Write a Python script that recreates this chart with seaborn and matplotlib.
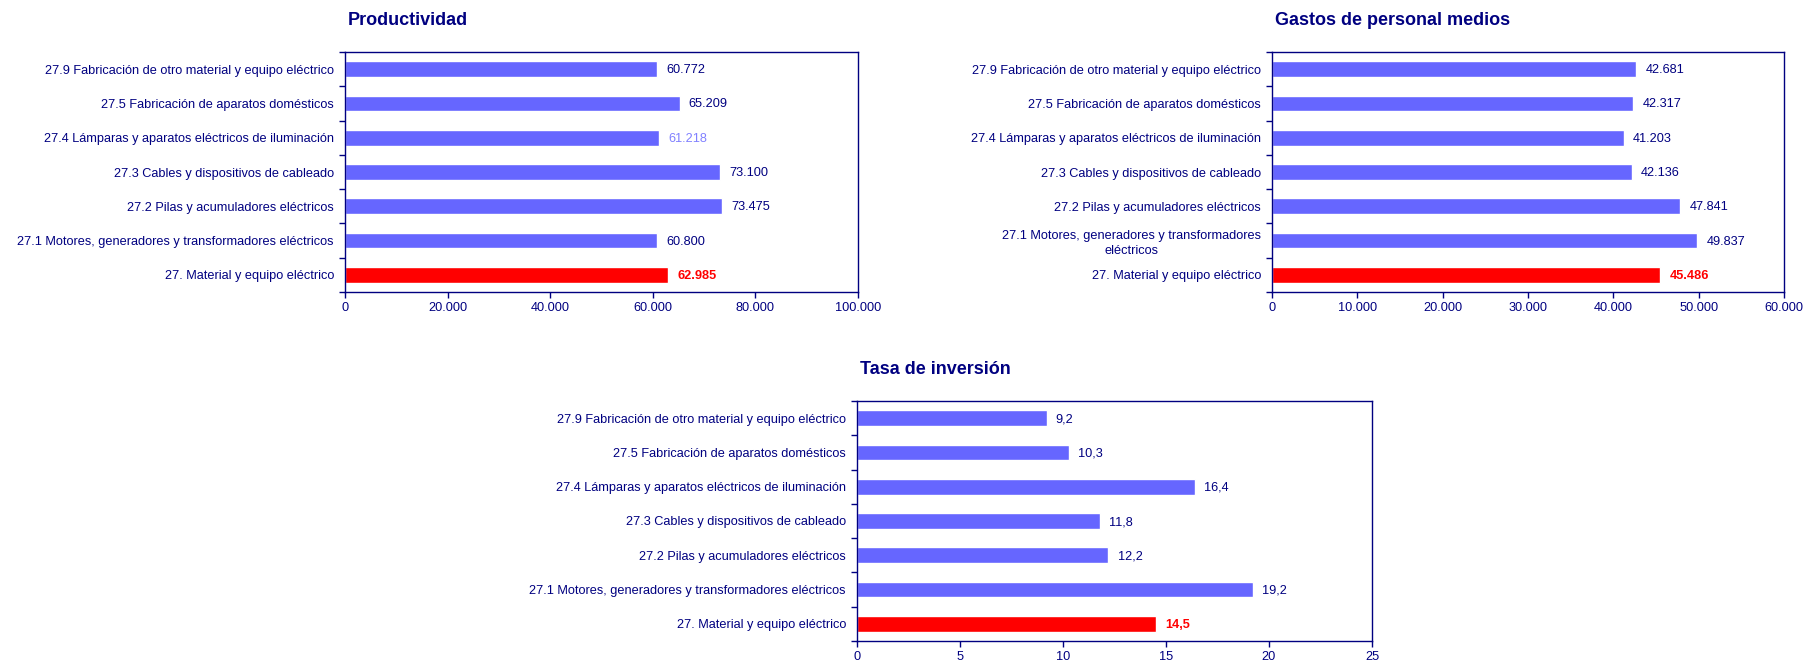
import matplotlib
matplotlib.use("Agg")
import matplotlib.pyplot as plt
import seaborn as sns
import numpy as np
import pandas as pd
from matplotlib.ticker import FixedLocator, FuncFormatter

sns.set_style("white")
plt.rcParams['font.family'] = ['Liberation Sans', 'DejaVu Sans']

categories = [
    "27.9 Fabricación de otro material y equipo eléctrico",
    "27.5 Fabricación de aparatos domésticos",
    "27.4 Lámparas y aparatos eléctricos de iluminación",
    "27.3 Cables y dispositivos de cableado",
    "27.2 Pilas y acumuladores eléctricos",
    "27.1 Motores, generadores y transformadores eléctricos",
    "27. Material y equipo eléctrico",
]
categories_wrapped = categories[:5] + [
    "27.1 Motores, generadores y transformadores\neléctricos",
    categories[6],
]

productividad = [60772, 65209, 61218, 73100, 73475, 60800, 62985]
gastos_personal = [42681, 42317, 41203, 42136, 47841, 49837, 45486]
tasa_inversion = [9.2, 10.3, 16.4, 11.8, 12.2, 19.2, 14.5]

titles = ["Productividad", "Gastos de personal medios", "Tasa de inversión"]
x_ticks_prod = [0, 20000, 40000, 60000, 80000, 100000]
x_ticks_gast = [0, 10000, 20000, 30000, 40000, 50000, 60000]
x_ticks_tasa = [0, 5, 10, 15, 20, 25]

NAVY = "#000080"
BLUE = "#6666FF"
RED = "#FF0000"

def fmt_thousands(v):
    return f"{int(round(v)):,}".replace(",", ".")

def fmt_dec(v):
    return f"{v:.1f}".replace(".", ",")

fig = plt.figure(figsize=(18.19, 6.64), dpi=100)
W, H = 1819, 664

def make_axes(l, r, t, b):
    return fig.add_axes([l / W, 1 - b / H, (r - l) / W, (b - t) / H])

ax1 = make_axes(345, 858, 52, 292)
ax2 = make_axes(1272, 1784, 52, 292)
ax3 = make_axes(857, 1372, 401, 641)

specs = [
    (ax1, categories, productividad, x_ticks_prod, fmt_thousands, titles[0]),
    (ax2, categories_wrapped, gastos_personal, x_ticks_gast, fmt_thousands, titles[1]),
    (ax3, categories, tasa_inversion, x_ticks_tasa, fmt_dec, titles[2]),
]

for ax, cats, vals, xt, fmt, title in specs:
    df = pd.DataFrame({"cat": cats, "val": vals})
    pal = {c: (RED if i == len(cats) - 1 else BLUE) for i, c in enumerate(cats)}
    sns.barplot(data=df, x="val", y="cat", hue="cat", palette=pal, legend=False,
                order=cats, width=0.46, saturation=1, ax=ax, orient="h")
    ax.set_xlim(xt[0], xt[-1])
    ax.set_ylim(len(cats) - 0.5, -0.5)
    ax.set_xticks(xt)
    ax.xaxis.set_major_formatter(FuncFormatter(lambda v, p, f=fmt: (f(v) if f is fmt_thousands else f"{int(v)}")))
    ax.set_xlabel("")
    ax.set_ylabel("")
    for s in ax.spines.values():
        s.set_color(NAVY)
        s.set_linewidth(1.0)
    ax.tick_params(axis="x", colors=NAVY, labelcolor=NAVY, direction="out", length=4,
                   width=1, labelsize=9.2, bottom=True, pad=3)
    ax.tick_params(axis="y", which="major", length=0, labelcolor=NAVY, labelsize=9.2, pad=8)
    ax.yaxis.set_minor_locator(FixedLocator(np.arange(-0.5, len(cats) + 0.5, 1.0)))
    ax.tick_params(axis="y", which="minor", left=True, direction="out", length=4,
                   width=1, colors=NAVY)
    for lab in ax.get_yticklabels():
        lab.set_multialignment("center")
        lab.set_linespacing(1.35)
    span = xt[-1] - xt[0]
    for i, v in enumerate(vals):
        is_total = i == len(vals) - 1
        color = RED if is_total else NAVY
        if ax is ax1 and i == 2:
            color = "#8080FF"
        ax.text(v + span * 0.018, i + 0.03, fmt(v), va="center", ha="left", fontsize=9.2,
                color=color, fontweight="bold" if is_total else "normal")
    ax.text(0.005, 1.0 + 31 / 240, title, transform=ax.transAxes, ha="left", va="center",
            fontsize=13, fontweight="bold", color=NAVY)

fig.savefig("out.png", dpi=100, facecolor="white")
